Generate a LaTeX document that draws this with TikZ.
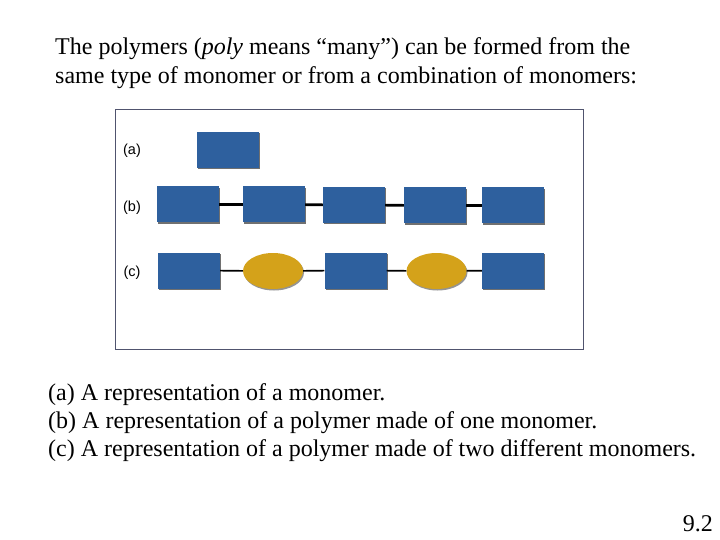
\documentclass[tikz,border=0pt]{standalone}
\usepackage{fontspec}
\setmainfont{Liberation Serif}
\newfontfamily\labfont{Liberation Sans}
\usetikzlibrary{shapes.geometric,shadows}
\definecolor{monoblue}{RGB}{46,96,158}
\definecolor{monogold}{RGB}{212,162,26}
\definecolor{frameblue}{RGB}{80,84,110}
\tikzset{
	block/.style={rectangle,minimum width=62pt,minimum height=36pt,inner sep=0pt,
		fill=monoblue,drop shadow={shadow xshift=1.2pt,shadow yshift=-1.5pt,fill=black!80,opacity=.7}},
	blob/.style={ellipse,minimum width=60pt,minimum height=36pt,inner sep=0pt,
		fill=monogold,drop shadow={shadow xshift=1pt,shadow yshift=-1.5pt,fill=black!70,opacity=.6}},
	rowlabel/.style={font=\labfont\fontsize{14.5}{16}\selectfont,inner sep=0pt},
	prose/.style={anchor=west,inner sep=0pt,font=\fontsize{24}{28}\selectfont}
}
\begin{document}
\begin{tikzpicture}[x=1pt,y=-1pt]
	\useasboundingbox (0,0) rectangle (720,540);
	%
	\node[prose] (t1) at (55,49) {The polymers (\textit{poly} means “many”) can be formed from the};
	\node[prose] (t2) at (55,78) {same type of monomer or from a combination of monomers:};
	%
	\draw[frameblue,line width=.8pt] (115,109) rectangle (583,349);
	\node[rowlabel] (la) at (132,151) {(a)};
	\node[rowlabel] (lb) at (132,208) {(b)};
	\node[rowlabel] (lc) at (132,273) {(c)};
	%
	\node[block] (a1) at (228,150) {};
	%
	\node[block] (b1) at (188,204.5) {};
	\node[block] (b2) at (274,204.5) {};
	\node[block] (b3) at (354,205) {};
	\node[block] (b4) at (435,205.5) {};
	\node[block] (b5) at (513,205.5) {};
	\foreach \i/\j in {1/2,2/3,3/4,4/5}
		\draw[line width=2.6pt] (b\i) -- (b\j);
	%
	\node[block] (c1) at (189,270.5) {};
	\node[blob]  (c2) at (273,271) {};
	\node[block] (c3) at (355.5,270.5) {};
	\node[blob]  (c4) at (436.5,271) {};
	\node[block] (c5) at (513,270.5) {};
	\foreach \i/\j in {1/2,2/3,3/4,4/5}
		\draw[line width=1.6pt] (c\i) -- (c\j);
	%
	\node[prose] (p1) at (48,395) {(a) A representation of a monomer.};
	\node[prose] (p2) at (48,423) {(b) A representation of a polymer made of one monomer.};
	\node[prose] (p3) at (48,451) {(c) A representation of a polymer made of two different monomers.};
	\node[prose,anchor=east] (pg) at (713,524) {9.2};
\end{tikzpicture}
\end{document}
